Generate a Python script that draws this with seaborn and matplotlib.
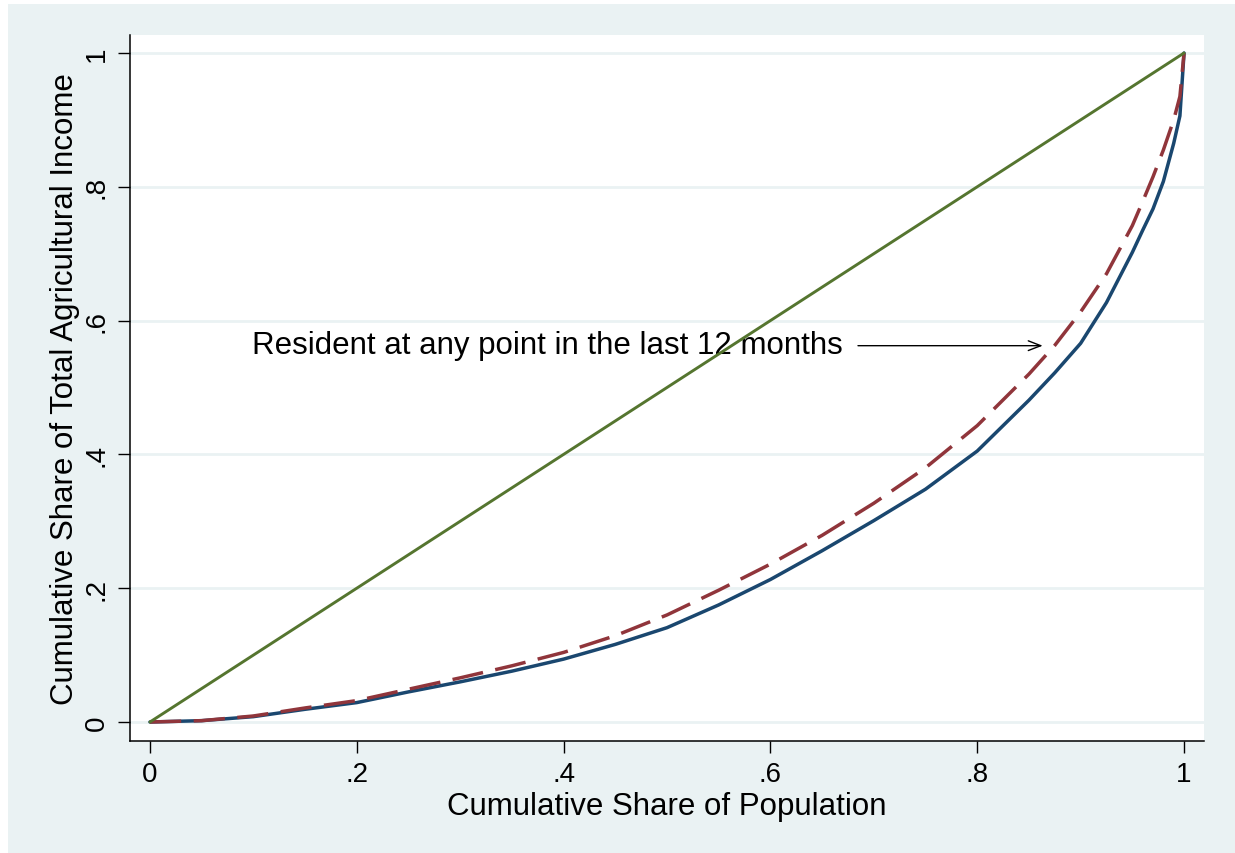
import numpy as np
import pandas as pd
import seaborn as sns
import matplotlib.pyplot as plt
from matplotlib.patches import Rectangle

#-- data (Lorenz curves) --#
pop_share = [0, 0.05, 0.1, 0.15, 0.2, 0.25, 0.3, 0.35, 0.4, 0.45, 0.5, 0.55,
             0.6, 0.65, 0.7, 0.75, 0.8, 0.85, 0.875, 0.9, 0.925, 0.95, 0.96,
             0.97, 0.98, 0.99, 0.996, 1.0]
income_current = [0, 0.002, 0.008, 0.019, 0.029, 0.045, 0.060, 0.076, 0.094,
                  0.116, 0.141, 0.175, 0.213, 0.256, 0.301, 0.348, 0.405,
                  0.481, 0.522, 0.566, 0.627, 0.702, 0.735, 0.767, 0.808,
                  0.865, 0.906, 1.0]
income_resident = [0, 0.002, 0.009, 0.021, 0.032, 0.049, 0.066, 0.084, 0.104,
                   0.129, 0.160, 0.197, 0.236, 0.279, 0.327, 0.380, 0.443,
                   0.520, 0.563, 0.613, 0.670, 0.742, 0.778, 0.815, 0.855,
                   0.900, 0.935, 1.0]
equality = [0, 1]

tick_vals = [0, 0.2, 0.4, 0.6, 0.8, 1]
tick_labels = ["0", ".2", ".4", ".6", ".8", "1"]
note_text = "Resident at any point in the last 12 months"

df = pd.DataFrame({"pop": pop_share, "current": income_current,
                   "resident": income_resident})

NAVY, MAROON, GREEN = "#1a476f", "#90353b", "#55752f"
BG = "#eaf2f3"

sns.set_style("ticks")
plt.rcParams["font.family"] = ["Liberation Sans", "DejaVu Sans"]
plt.rcParams["text.color"] = "black"
plt.rcParams["axes.labelcolor"] = "black"

fig = plt.figure(figsize=(12.35, 8.54), dpi=100, facecolor="white")
fig.patches.append(Rectangle((8 / 1235, 0), 1, 849 / 854, transform=fig.transFigure,
                             facecolor=BG, edgecolor="none", zorder=-10))
ax = fig.add_axes([130 / 1235, 112 / 854, 1074 / 1235, 706 / 854])
ax.set_facecolor("white")

sns.lineplot(data=df, x="pop", y="current", ax=ax, color=NAVY, lw=2.5, zorder=3)
sns.lineplot(data=df, x="pop", y="resident", ax=ax, color=MAROON, lw=2.5,
             linestyle=(0, (9, 3.6)), zorder=4)
sns.lineplot(x=equality, y=equality, ax=ax, color=GREEN, lw=2.1, zorder=5)

ax.text(0.0986, 0.5635, note_text, fontsize=22.5, va="center", ha="left",
        color="black", zorder=2)
ax.annotate("", xy=(0.866, 0.5625), xytext=(0.682, 0.5625),
            arrowprops=dict(arrowstyle="->,head_length=0.9,head_width=0.35",
                            lw=1.0, color="black"), zorder=2)

ax.set_xlim(-0.0193, 1.0193)
ax.set_ylim(-0.0284, 1.0269)
ax.set_xticks(tick_vals)
ax.set_xticklabels(tick_labels)
ax.set_yticks(tick_vals)
ax.set_yticklabels(tick_labels, rotation=90, va="center")
ax.yaxis.grid(True, color=BG, lw=2.0, zorder=0)
ax.xaxis.grid(False)

for side in ["top", "right"]:
    ax.spines[side].set_visible(False)
for side in ["left", "bottom"]:
    ax.spines[side].set_color("black")
    ax.spines[side].set_linewidth(1.1)
ax.tick_params(axis="both", direction="out", length=8.6, width=1.0,
               color="black", labelsize=20, labelcolor="black")
ax.tick_params(axis="y", pad=6)
ax.tick_params(axis="x", pad=6)

ax.set_xlabel("Cumulative Share of Population", fontsize=22.5, labelpad=3)
ax.set_ylabel("Cumulative Share of Total Agricultural Income", fontsize=22.5,
              labelpad=2.5)

fig.savefig("out.png", dpi=100, facecolor=fig.get_facecolor())
